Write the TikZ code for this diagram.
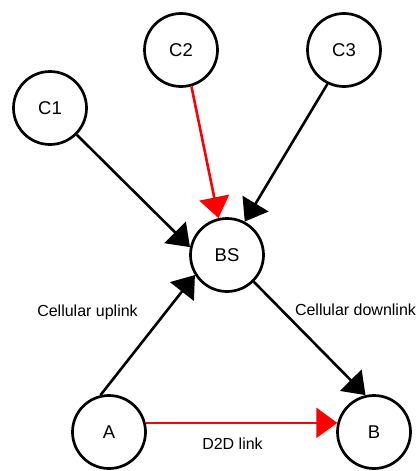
\documentclass[tikz,border=0pt]{standalone}
\usepackage{fontspec}
\setmainfont{Liberation Sans}
\usetikzlibrary{arrows.meta}
\begin{document}
\begin{tikzpicture}[x=1pt,y=-1pt,
  station/.style={circle,draw=black,line width=2.7pt,minimum size=73pt,inner sep=0pt,font=\fontsize{18.5}{20}\selectfont},
  link/.style={line width=2.6pt,-{Triangle[length=21pt,width=30pt]}},
  lbl/.style={anchor=base,inner sep=0pt,font=\fontsize{16}{18}\selectfont}]
\useasboundingbox (0,0) rectangle (419,471);
\node[station] (C1) at (50,108) {C1};
\node[station] (C2) at (181,50) {C2};
\node[station] (C3) at (344,50) {C3};
\node[station] (BS) at (227,255) {BS};
\node[station] (A) at (109,432) {A};
\node[station] (B) at (374,432) {B};
\draw[link] (C1.-45) -- (BS.168);
\draw[link,red] (C2.-74) -- (BS.103);
\draw[link] (C3.244) -- (BS.62);
\draw[link] (A.103) -- (BS.212);
\draw[link] (BS.-45) -- (B.103);
\draw[link,red] (A.14) -- (B.166);
\node[lbl] (ul) at (87.5,316) {Cellular uplink};
\node[lbl] (dl) at (355.5,315) {Cellular downlink};
\node[lbl] (d2d) at (232.5,449) {D2D link};
\end{tikzpicture}
\end{document}
